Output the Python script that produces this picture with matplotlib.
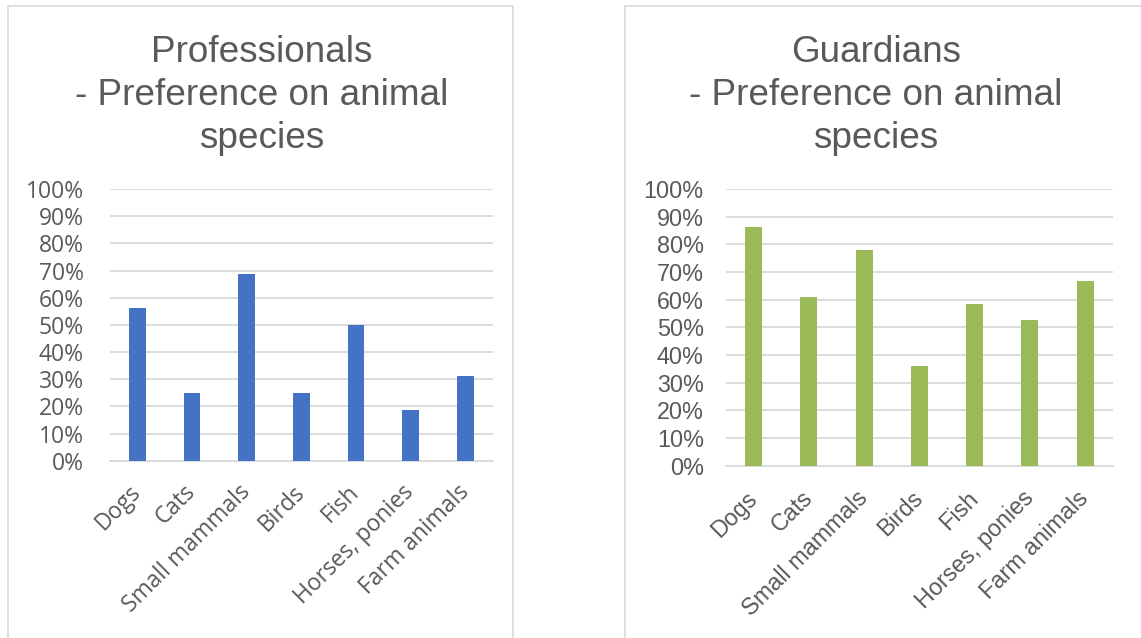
import matplotlib
matplotlib.use("Agg")
import matplotlib.pyplot as plt
from matplotlib.patches import Rectangle
from matplotlib.ticker import PercentFormatter

categories = ["Dogs", "Cats", "Small mammals", "Birds", "Fish", "Horses, ponies", "Farm animals"]
professionals = [0.5625, 0.25, 0.6875, 0.25, 0.50, 0.1875, 0.3125]
guardians = [0.861, 0.611, 0.778, 0.361, 0.583, 0.528, 0.667]
yticks = [i / 10 for i in range(11)]

W, H = 1141, 638
fig = plt.figure(figsize=(W / 100, H / 100), dpi=100)
fig.patch.set_facecolor("white")

TXT = "#595959"
GRID = "#d9d9d9"

# panel borders
for x0, x1 in [(8, 513), (625, 1160)]:
    fig.patches.append(Rectangle((x0 / W, -0.05), (x1 - x0) / W, (H - 6) / H + 0.05,
                                 transform=fig.transFigure, fill=False,
                                 edgecolor=GRID, linewidth=1.2))

def make(ax_px, values, color, tick_font, ypad, xpad, fs):
    l, t, r, b = ax_px
    ax = fig.add_axes([l / W, (H - b) / H, (r - l) / W, (b - t) / H])
    x = list(range(len(categories)))
    ax.bar(x, values, width=0.31, color=color, zorder=3)
    ax.set_xlim(-0.5, len(categories) - 0.5)
    ax.set_ylim(0, 1)
    ax.set_yticks(yticks)
    ax.yaxis.set_major_formatter(PercentFormatter(1.0, decimals=0))
    ax.grid(axis="y", color=GRID, linewidth=1.3, zorder=0)
    for s in ["top", "right", "left"]:
        ax.spines[s].set_visible(False)
    ax.spines["bottom"].set_color(GRID)
    ax.spines["bottom"].set_linewidth(1.3)
    ax.tick_params(axis="both", length=0, colors=TXT, labelsize=fs)
    ax.tick_params(axis="y", pad=ypad)
    ax.set_xticks(x)
    ax.set_xticklabels(categories, rotation=45, ha="right", va="center",
                       rotation_mode="anchor", family=tick_font, color=TXT, fontsize=fs)
    ax.tick_params(axis="x", pad=xpad)
    for lab in ax.get_yticklabels():
        lab.set_family(tick_font)
    return ax

make((110, 189, 492.7, 460.7), professionals, "#4472C4", "Open Sans", 19, 20, 16.5)
make((726, 189, 1112.7, 465.7), guardians, "#9BBB59", "Liberation Sans", 16, 21, 16.8)

for cx, lines in [(262, ["Professionals", "- Preference on animal", "species"]),
                  (876, ["Guardians", "- Preference on animal", "species"])]:
    for i, ln in enumerate(lines):
        fig.text(cx / W, 1 - (62 + 43 * i) / H, ln, ha="center", va="baseline",
                 fontsize=26.6, color=TXT, family="Liberation Sans")

fig.savefig("out.png", dpi=100, facecolor="white")
